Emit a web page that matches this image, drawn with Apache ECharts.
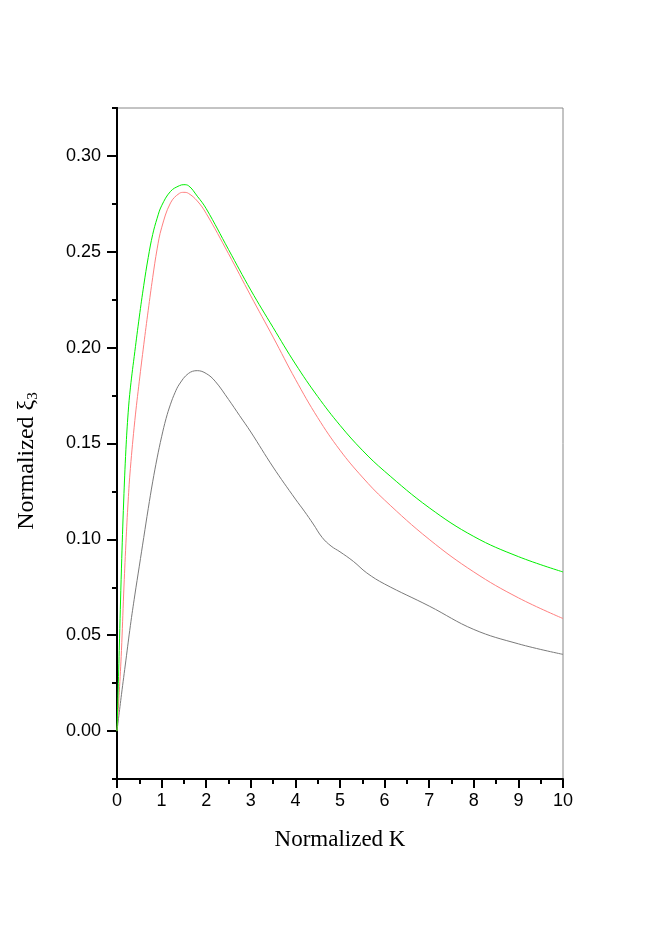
<!DOCTYPE html>
<html>
<head>
<meta charset="utf-8">
<script src="https://cdn.jsdelivr.net/npm/echarts@6/dist/echarts.min.js"></script>
<style>
  html, body { margin: 0; padding: 0; background: #fff; }
  #chart { width: 654px; height: 934px; }
</style>
</head>
<body>
<div id="chart"></div>
<script>
  // values
  var kUpper = [0, 0.05, 0.1, 0.15, 0.2, 0.25, 0.3, 0.4, 0.5, 0.6, 0.7, 0.8, 0.9, 1.0, 1.2, 1.4, 1.5, 1.6, 1.8, 2.0, 2.5, 3.0, 3.5, 4.0, 4.5, 5.0, 5.5, 6.0, 7.0, 8.0, 9.0, 10]
  var greenVals = [0, 0.042, 0.085, 0.12, 0.147, 0.166, 0.179, 0.198, 0.216, 0.2325, 0.247, 0.259, 0.2675, 0.274, 0.2815, 0.2845, 0.285, 0.2845, 0.279, 0.2725, 0.2512, 0.230, 0.2105, 0.1915, 0.1745, 0.1595, 0.1465, 0.1355, 0.1165, 0.1015, 0.091, 0.083]
  var redVals = [0, 0.02, 0.042, 0.072, 0.098, 0.12, 0.137, 0.162, 0.1825, 0.2015, 0.2195, 0.2365, 0.2515, 0.2625, 0.2755, 0.2805, 0.281, 0.2805, 0.2765, 0.270, 0.249, 0.227, 0.2055, 0.1835, 0.1635, 0.1465, 0.1325, 0.1205, 0.100, 0.083, 0.0695, 0.0587]

  var kGray = [0, 0.1, 0.2, 0.3, 0.4, 0.5, 0.6, 0.7, 0.8, 0.9, 1.0, 1.1, 1.2, 1.3, 1.4, 1.6, 1.8, 2.0, 2.2, 2.5, 2.75, 3.0, 3.5, 4.0, 4.2, 4.4, 4.6, 4.8, 5.0, 5.3, 5.6, 6.0, 7.0, 8.0, 9.0, 10]
  var grayVals = [0, 0.019, 0.037, 0.055, 0.071, 0.086, 0.101, 0.116, 0.130, 0.1425, 0.1535, 0.163, 0.1705, 0.1765, 0.181, 0.1865, 0.188, 0.1865, 0.1825, 0.173, 0.1645, 0.156, 0.1377, 0.121, 0.1147, 0.108, 0.101, 0.0965, 0.0935, 0.0885, 0.0825, 0.0767, 0.0652, 0.053, 0.0455, 0.040]

  var yMajorTicks = [0, 0.05, 0.10, 0.15, 0.20, 0.25, 0.30]

  function pairs(xs, ys) {
    return xs.map(function (x, i) { return [x, ys[i]] })
  }

  var fontSans = 'Liberation Sans'
  var fontSerif = 'Liberation Serif'

  var chart = echarts.init(document.getElementById('chart'))

  var baseY = {
    type: 'value',
    min: -0.025,
    max: 0.325,
    interval: 0.025,
    position: 'left',
    splitLine: { show: false },
    axisLine: { show: true, onZero: false, lineStyle: { color: '#000', width: 2 } }
  }

  var option = {
    backgroundColor: '#fff',
    animation: false,
    grid: {
      left: 117,
      right: 91,
      top: 108,
      bottom: 155,
      show: true,
      borderColor: '#888',
      borderWidth: 1
    },
    xAxis: {
      type: 'value',
      min: 0,
      max: 10,
      interval: 1,
      name: 'Normalized K',
      nameLocation: 'middle',
      nameGap: 49,
      nameTextStyle: { fontFamily: fontSerif, fontSize: 23, color: '#000' },
      splitLine: { show: false },
      axisLine: { show: true, onZero: false, lineStyle: { color: '#000', width: 2 } },
      axisTick: { show: true, length: 9, lineStyle: { color: '#000', width: 2 } },
      minorTick: { show: true, splitNumber: 2, length: 5, lineStyle: { color: '#000', width: 2 } },
      axisLabel: { margin: 13, fontFamily: fontSans, fontSize: 18, color: '#000' }
    },
    yAxis: [
      Object.assign({}, baseY, {
        axisTick: { show: true, length: 5, lineStyle: { color: '#000', width: 2 } },
        axisLabel: { show: false }
      }),
      Object.assign({}, baseY, {
        name: 'Normalized ξ{sub|3}',
        nameLocation: 'middle',
        nameGap: 76,
        nameTextStyle: {
          fontFamily: fontSerif,
          fontSize: 24,
          lineHeight: 28,
          color: '#000',
          padding: [0, 35, 0, 0],
          rich: {
            sub: { fontFamily: fontSerif, fontSize: 15, lineHeight: 15, verticalAlign: 'bottom', color: '#000' }
          }
        },
        axisTick: { show: true, length: 10, customValues: yMajorTicks, lineStyle: { color: '#000', width: 2 } },
        axisLabel: {
          margin: 16,
          customValues: yMajorTicks,
          fontFamily: fontSans,
          fontSize: 18,
          color: '#000',
          formatter: function (v) { return v.toFixed(2) }
        }
      })
    ],
    series: [
      {
        type: 'line',
        data: pairs(kGray, grayVals),
        showSymbol: false,
        smooth: 0.4,
        lineStyle: { color: '#7a7a7a', width: 1 }
      },
      {
        type: 'line',
        data: pairs(kUpper, redVals),
        showSymbol: false,
        smooth: 0.4,
        lineStyle: { color: '#ff7f7f', width: 1 }
      },
      {
        type: 'line',
        data: pairs(kUpper, greenVals),
        showSymbol: false,
        smooth: 0.4,
        lineStyle: { color: '#00f000', width: 1 }
      }
    ]
  }

  chart.setOption(option)
</script>
</body>
</html>
